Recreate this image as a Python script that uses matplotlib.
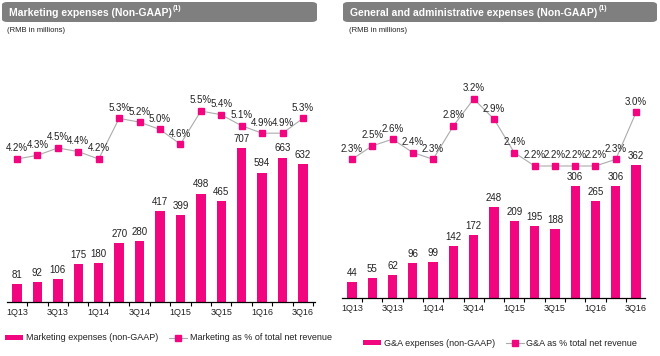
import numpy as np
import matplotlib
matplotlib.use("Agg")
import matplotlib.pyplot as plt
from matplotlib.patches import FancyBboxPatch, Patch
from matplotlib.lines import Line2D

plt.rcParams['font.family'] = ['Liberation Sans', 'DejaVu Sans']

quarters = ['1Q13', '2Q13', '3Q13', '4Q13', '1Q14', '2Q14', '3Q14', '4Q14',
            '1Q15', '2Q15', '3Q15', '4Q15', '1Q16', '2Q16', '3Q16']
mkt_exp = [81, 92, 106, 175, 180, 270, 280, 417, 399, 498, 465, 707, 594, 663, 632]
mkt_pct = [4.2, 4.3, 4.5, 4.4, 4.2, 5.3, 5.2, 5.0, 4.6, 5.5, 5.4, 5.1, 4.9, 4.9, 5.3]
ga_exp = [44, 55, 62, 96, 99, 142, 172, 248, 209, 195, 188, 306, 265, 306, 362]
ga_pct = [2.3, 2.5, 2.6, 2.4, 2.3, 2.8, 3.2, 2.9, 2.4, 2.2, 2.2, 2.2, 2.2, 2.3, 3.0]

PINK = '#F2067F'
GREY_HDR = '#7F7F7F'
LINE_GREY = '#ABABAB'
TXT = '#222222'

W, H = 660, 356
fig = plt.figure(figsize=(W / 100, H / 100), dpi=100)


def px_rect(x0, x1, ytop, ybot):
    # pixel box -> figure fraction [left, bottom, width, height]
    return [x0 / W, (H - ybot) / H, (x1 - x0) / W, (ybot - ytop) / H]


def panel(rect, title, bars, pcts, bar_top, pct_lim, xlim, bar_lbl, pct_lbl, hdr, sub_x, leg_y):
    ax = fig.add_axes(rect)
    x = np.arange(len(quarters))
    ax.bar(x, bars, width=0.46, color=PINK, zorder=2)
    for xi, v in zip(x, bars):
        ax.annotate(str(v), (xi, v), xytext=(0, 3), textcoords='offset points',
                    ha='center', va='bottom', fontsize=7, color=TXT)
    ax.set_ylim(0, bar_top)
    ax.set_xlim(*xlim)
    ax.set_yticks([])
    for s in ['top', 'right', 'left']:
        ax.spines[s].set_visible(False)
    ax.spines['bottom'].set_linewidth(0.9)
    ax.set_xticks(x[::2])
    ax.set_xticklabels(quarters[::2], fontsize=6.5, color=TXT)
    ax.tick_params(axis='x', which='major', length=0, pad=4)
    ax.set_xticks(np.arange(-0.5, len(quarters), 1.0), minor=True)
    ax.tick_params(axis='x', which='minor', length=3, width=0.8)

    ax2 = ax.twinx()
    ax2.plot(x, pcts, color=LINE_GREY, lw=0.8, marker='s', ms=4,
             mfc=PINK, mec=PINK, zorder=3)
    for xi, v in zip(x, pcts):
        ax2.annotate('%.1f%%' % v, (xi, v), xytext=(0, 4), textcoords='offset points',
                     ha='center', va='bottom', fontsize=7, color=TXT)
    ax2.set_ylim(*pct_lim)
    ax2.set_xlim(*xlim)
    ax2.axis('off')

    # header bar
    hx0, hx1 = hdr
    box = FancyBboxPatch((hx0 / W, (H - 22) / H), (hx1 - hx0) / W, 20 / H,
                         boxstyle='round,pad=0,rounding_size=0.008',
                         transform=fig.transFigure, facecolor=GREY_HDR,
                         edgecolor='none', zorder=0)
    fig.patches.append(box)
    t = fig.text((hx0 + 7) / W, (H - 12.5) / H, title, color='white',
                 fontsize=7.5, fontweight='bold', va='center', ha='left')
    fig.canvas.draw()
    bb = t.get_window_extent(fig.canvas.get_renderer())
    fig.text(bb.x1 / W + 1 / W, (H - 8.5) / H, '(1)', color='white', fontsize=5,
             fontweight='bold', va='center', ha='left')
    fig.text(sub_x / W, (H - 31) / H, '(RMB in millions)', fontsize=5.5,
             color=TXT, va='center', ha='left')

    handles = [Patch(facecolor=PINK, edgecolor='none'),
               Line2D([], [], color=LINE_GREY, lw=0.8, marker='s', ms=4,
                      mfc=PINK, mec=PINK)]
    fig.legend(handles, [bar_lbl, pct_lbl], loc='center left',
               bbox_to_anchor=(leg_y[0] / W, (H - leg_y[1]) / H), ncol=2,
               frameon=False, fontsize=6.5, handlelength=2.0, handleheight=0.55,
               handletextpad=0.3, columnspacing=1.2, borderpad=0, borderaxespad=0,
               labelcolor=TXT)
    return ax


panel(px_rect(7, 315, 40, 302), 'Marketing expenses (Non-GAAP)', mkt_exp, mkt_pct,
      1203, (0.325, 7.425), (-0.49, 14.59),
      'Marketing expenses (non-GAAP)', 'Marketing as % of total net revenue',
      (2, 317), 7, (5, 338))
panel(px_rect(342, 645, 40, 298), 'General and administrative expenses (Non-GAAP)',
      ga_exp, ga_pct, 703, (0.23, 4.08), (-0.49, 14.44),
      'G&A expenses (non-GAAP)', 'G&A as % total net revenue',
      (343, 657), 349, (363, 343))

fig.savefig('out.png', dpi=100)
